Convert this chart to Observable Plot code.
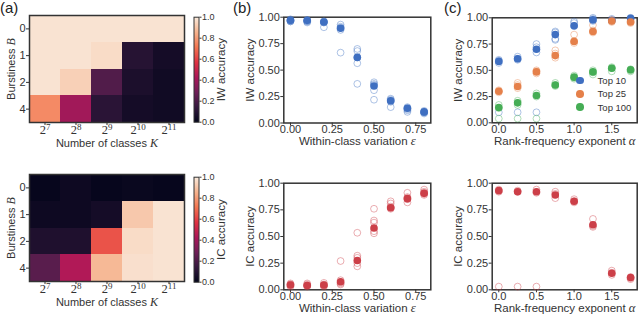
<!DOCTYPE html>
<html><head><meta charset="utf-8">
<script src="https://cdn.jsdelivr.net/npm/d3@7"></script>
<script src="https://cdn.jsdelivr.net/npm/@observablehq/plot@0.6"></script>
<style>
html,body{margin:0;padding:0;background:#fff;}
#fig{position:relative;width:640px;height:314px;overflow:hidden;font-family:"Liberation Sans",Arial,sans-serif;color:#333;}
#fig svg{position:absolute;overflow:visible;}
.plab{position:absolute;top:0;font-size:15px;line-height:15px;color:#222;}
</style></head><body><div id="fig"></div>
<script>
// ---------- data ----------
const burstiness = ["0", "1", "2", "4"];
const classExponents = [7, 8, 9, 10, 11];
// rows = burstiness, cols = number of classes 2^7..2^11
const iwHeat = [
  [0.98, 0.98, 0.98, 0.98, 0.98],
  [0.98, 0.98, 0.96, 0.10, 0.05],
  [0.98, 0.93, 0.21, 0.07, 0.04],
  [0.76, 0.40, 0.11, 0.05, 0.04]
];
const icHeat = [
  [0.01, 0.03, 0.01, 0.02, 0.01],
  [0.03, 0.03, 0.05, 0.91, 0.98],
  [0.08, 0.08, 0.64, 0.96, 0.98],
  [0.23, 0.44, 0.87, 0.97, 0.98]
];
const colorbarTicks = [0, 0.2, 0.4, 0.6, 0.8, 1.0];

const epsilon = [0, 0.1, 0.2, 0.3, 0.4, 0.5, 0.6, 0.7, 0.8];
const epsIWMean = [0.97, 0.97, 0.955, 0.895, 0.62, 0.35, 0.21, 0.14, 0.105];
const epsIWSeeds = [
  [0.98, 0.97, 0.96, 0.97, 0.96],
  [0.97, 0.96, 0.95, 0.97, 0.96],
  [0.96, 0.95, 0.905, 0.96, 0.95],
  [0.93, 0.90, 0.88, 0.665, 0.91],
  [0.70, 0.68, 0.565, 0.37, 0.62],
  [0.385, 0.36, 0.31, 0.22, 0.37],
  [0.23, 0.21, 0.15, 0.22, 0.20],
  [0.15, 0.14, 0.105, 0.13, 0.12],
  [0.115, 0.10, 0.09, 0.105, 0.10]
];
const epsICMean = [0.045, 0.04, 0.045, 0.075, 0.275, 0.58, 0.77, 0.855, 0.905];
const epsICSeeds = [
  [0.06, 0.05, 0.03, 0.04, 0.05],
  [0.06, 0.04, 0.03, 0.04, 0.05],
  [0.065, 0.04, 0.03, 0.05, 0.04],
  [0.27, 0.09, 0.07, 0.05, 0.06],
  [0.535, 0.32, 0.30, 0.25, 0.22],
  [0.76, 0.65, 0.63, 0.55, 0.53],
  [0.83, 0.81, 0.78, 0.76, 0.77],
  [0.91, 0.86, 0.82, 0.85, 0.87],
  [0.94, 0.91, 0.89, 0.90, 0.92]
];

const alphaExp = [0, 0.25, 0.5, 0.75, 1.0, 1.25, 1.5, 1.75];
const top10Mean = [0.585, 0.61, 0.70, 0.84, 0.925, 0.98, 0.975, 0.995];
const top25Mean = [0.30, 0.345, 0.485, 0.64, 0.775, 0.87, 0.97, 0.96];
const top100Mean = [0.145, 0.19, 0.26, 0.36, 0.435, 0.485, 0.52, 0.505];
const top10Seeds = [
  [0.60, 0.57, 0.59, 0.10], [0.63, 0.60, 0.61, 0.10], [0.75, 0.72, 0.67, 0.10],
  [0.87, 0.86, 0.80, 0.79], [0.965, 0.95, 0.92], [0.99, 1.0, 0.97], [0.99, 0.98], [1.0, 0.99]
];
const top25Seeds = [
  [0.31, 0.29, 0.30], [0.38, 0.36, 0.33], [0.50, 0.47, 0.49], [0.69, 0.66, 0.62],
  [0.84, 0.78, 0.76], [0.93, 0.86, 0.88], [0.98, 0.96, 0.97], [0.97, 0.95, 0.96]
];
const top100Seeds = [
  [0.17, 0.14, 0.04], [0.21, 0.17, 0.04], [0.28, 0.25, 0.04], [0.38, 0.35, 0.36],
  [0.45, 0.42, 0.43], [0.50, 0.46, 0.48], [0.53, 0.49, 0.52], [0.51, 0.49, 0.50]
];
const alphaICMean = [0.93, 0.92, 0.92, 0.89, 0.83, 0.61, 0.155, 0.115];
const alphaICSeeds = [
  [0.94, 0.92, 0.03], [0.93, 0.92, 0.03], [0.94, 0.91, 0.03], [0.92, 0.90, 0.86],
  [0.85, 0.83, 0.82], [0.665, 0.60, 0.59], [0.18, 0.16, 0.14], [0.12, 0.11, 0.10]
];
const legendLabels = ["Top 10", "Top 25", "Top 100"];

// ---------- style ----------
const INK = "#333";
const BLUE = "#3f6fc1", ORANGE = "#e5804a", GREEN = "#45ad55", RED = "#cc3f48";
const rocket = d3.piecewise(d3.interpolateRgb, ["#03051a", "#35193e", "#701f57", "#ad1759", "#e13342", "#f37651", "#f6b48f", "#faebdd"]);
const SANS = "'Liberation Sans', Arial, sans-serif";
const SERIF = "'Liberation Serif', 'Times New Roman', serif";
const fig = document.getElementById("fig");
const SVGNS = "http://www.w3.org/2000/svg";

function place(node, left, top) {
  node.style.left = left + "px";
  node.style.top = top + "px";
  fig.appendChild(node);
}
function italicize(svg, text, sym) {
  for (const t of svg.querySelectorAll("text")) {
    if (t.textContent === text) {
      t.textContent = text.slice(0, text.length - sym.length);
      const ts = document.createElementNS(SVGNS, "tspan");
      ts.setAttribute("font-family", SERIF);
      ts.setAttribute("font-style", "italic");
      ts.setAttribute("font-size", "1.1em");
      ts.textContent = sym;
      t.appendChild(ts);
    }
  }
}
function baseStyle(size = "11px") {
  return {background: "transparent", fontFamily: SANS, fontSize: size, color: INK, overflow: "visible"};
}

// ---------- heatmaps ----------
function heatmap(grid, svgTop, frameTop, frameBottom) {
  const H = 157;
  const data = burstiness.flatMap((b, i) => classExponents.map((k, j) => ({b, k, v: grid[i][j]})));
  const svg = Plot.plot({
    width: 190, height: H,
    marginLeft: 29, marginRight: 6, marginTop: frameTop, marginBottom: H - frameBottom,
    style: baseStyle(),
    x: {type: "band", domain: classExponents, padding: 0, round: false, tickSize: 3, tickPadding: 0,
        label: "Number of classes K", labelAnchor: "center", labelArrow: "none", labelOffset: 24},
    y: {type: "band", domain: burstiness, padding: 0, round: false, tickSize: 3, tickPadding: 1,
        label: "Burstiness B", labelAnchor: "center", labelArrow: "none", labelOffset: 22},
    color: {type: "linear", domain: [0, 1], interpolate: rocket},
    marks: [
      Plot.cell(data, {x: "k", y: "b", fill: "v", inset: 0, shapeRendering: "crispEdges"}),
      Plot.frame({stroke: INK, strokeWidth: 1.5})
    ]
  });
  // 2^k tick labels
  for (const t of svg.querySelectorAll('g[aria-label="x-axis tick label"] text')) {
    const e = t.textContent;
    t.textContent = "";
    t.setAttribute("font-family", SERIF);
    t.setAttribute("font-size", "12.5px");
    const b = document.createElementNS(SVGNS, "tspan"); b.textContent = "2";
    const s = document.createElementNS(SVGNS, "tspan"); s.textContent = e;
    s.setAttribute("dy", "-0.45em"); s.setAttribute("font-size", "9px");
    t.appendChild(b); t.appendChild(s);
  }
  italicize(svg, "Number of classes K", "K");
  italicize(svg, "Burstiness B", "B");
  place(svg, 0, svgTop);
}
function colorbar(label, svgTop, frameTop, frameBottom) {
  const H = 157;
  const svg = Plot.plot({
    width: 40, height: H,
    marginLeft: 3.5, marginRight: 31.5, marginTop: frameTop, marginBottom: H - frameBottom,
    style: baseStyle("9px"),
    x: {domain: [0, 1], axis: null},
    y: {domain: [0, 1], axis: "right", ticks: colorbarTicks, tickFormat: ".1f", tickSize: 2, tickPadding: 1,
        label, labelAnchor: "center", labelArrow: "none", labelOffset: 26},
    color: {type: "linear", domain: [0, 1], interpolate: rocket},
    marks: [
      Plot.raster({x1: 0, x2: 1, y1: 0, y2: 1, fill: (x, y) => y}),
      Plot.frame({stroke: INK, strokeWidth: 1})
    ]
  });
  for (const t of svg.querySelectorAll('g[aria-label="y-axis label"] text')) t.setAttribute("font-size", "11.5px");
  place(svg, 190, svgTop);
}

// ---------- scatter panels ----------
function scatter(o) {
  const H = 157;
  const marks = [Plot.frame({stroke: INK, strokeWidth: 1.5})];
  for (const s of o.series) {
    const seeds = o.xs.flatMap((x, i) => s.seeds[i].map((v) => ({x, v})));
    marks.push(Plot.dot(seeds, {x: "x", y: "v", r: 3.4, stroke: s.color, strokeOpacity: 0.42, strokeWidth: 1, fill: "none"}));
  }
  for (const s of o.series) {
    const means = o.xs.map((x, i) => ({x, v: s.mean[i]}));
    marks.push(Plot.dot(means, {x: "x", y: "v", r: 3.8, fill: s.color, stroke: "none"}));
  }
  const svg = Plot.plot({
    width: 205, height: H,
    marginLeft: o.mL, marginRight: 205 - o.mL - o.fw, marginTop: o.fTop, marginBottom: H - o.fBottom,
    style: baseStyle(),
    x: {domain: o.xDomain, ticks: o.xTicks, tickFormat: o.xFmt, tickSize: 3, tickPadding: -1,
        label: o.xLabel, labelAnchor: "center", labelArrow: "none", labelOffset: 22},
    y: {domain: [0, 1], ticks: [0, 0.25, 0.5, 0.75, 1], tickFormat: ".2f", tickSize: 3, tickPadding: 1,
        label: o.yLabel, labelAnchor: "center", labelArrow: "none", labelOffset: 38},
    marks
  });
  for (const t of svg.querySelectorAll('g[aria-label="x-axis label"] text, g[aria-label="y-axis label"] text')) t.setAttribute("font-size", "11.5px");
  if (o.sym) italicize(svg, o.xLabel, o.sym);
  place(svg, o.left, o.top);
}

// (a)
heatmap(iwHeat, 0, 15, 122);
colorbar("IW accuracy", 0, 16.7, 121.7);
heatmap(icHeat, 157, 17, 124);
colorbar("IC accuracy", 157, 19.7, 124.7);

// (b)
scatter({left: 230, top: 0, mL: 53.3, fw: 147, fTop: 16.7, fBottom: 122.5,
  xs: epsilon, xDomain: [-0.04, 0.84], xTicks: [0, 0.25, 0.5, 0.75], xFmt: ".2f",
  xLabel: "Within-class variation ε", sym: "ε", yLabel: "IW accuracy",
  series: [{mean: epsIWMean, seeds: epsIWSeeds, color: BLUE}]});
scatter({left: 230, top: 157, mL: 53.3, fw: 147, fTop: 25.7, fBottom: 132.3,
  xs: epsilon, xDomain: [-0.04, 0.84], xTicks: [0, 0.25, 0.5, 0.75], xFmt: ".2f",
  xLabel: "Within-class variation ε", sym: "ε", yLabel: "IC accuracy",
  series: [{mean: epsICMean, seeds: epsICSeeds, color: RED}]});

// (c)
scatter({left: 435, top: 0, mL: 56.7, fw: 145, fTop: 17.3, fBottom: 122.3,
  xs: alphaExp, xDomain: [-0.0875, 1.8375], xTicks: [0, 0.5, 1, 1.5], xFmt: ".1f",
  xLabel: "Rank-frequency exponent α", sym: "α", yLabel: "IW accuracy",
  series: [
    {mean: top10Mean, seeds: top10Seeds, color: BLUE},
    {mean: top25Mean, seeds: top25Seeds, color: ORANGE},
    {mean: top100Mean, seeds: top100Seeds, color: GREEN}
  ]});
scatter({left: 435, top: 157, mL: 56.7, fw: 145, fTop: 25.7, fBottom: 132.3,
  xs: alphaExp, xDomain: [-0.0875, 1.8375], xTicks: [0, 0.5, 1, 1.5], xFmt: ".1f",
  xLabel: "Rank-frequency exponent α", sym: "α", yLabel: "IC accuracy",
  series: [{mean: alphaICMean, seeds: alphaICSeeds, color: RED}]});

// legend for (c)
const leg = document.createElement("div");
leg.style.cssText = "position:absolute;left:576px;top:74px;font-size:9.5px;color:#333;";
[BLUE, ORANGE, GREEN].forEach((c, i) => {
  const row = document.createElement("div");
  row.style.cssText = "display:flex;align-items:center;height:13.3px;";
  const dot = document.createElement("span");
  dot.style.cssText = `display:inline-block;width:7.6px;height:7.6px;border-radius:50%;background:${c};margin-right:14px;`;
  const txt = document.createElement("span");
  txt.textContent = legendLabels[i];
  row.appendChild(dot); row.appendChild(txt);
  leg.appendChild(row);
});
fig.appendChild(leg);

// panel labels
[["(a)", 0], ["(b)", 233], ["(c)", 444]].forEach(([t, x]) => {
  const d = document.createElement("div");
  d.className = "plab"; d.textContent = t; d.style.left = x + "px";
  fig.appendChild(d);
});
</script></body></html>
